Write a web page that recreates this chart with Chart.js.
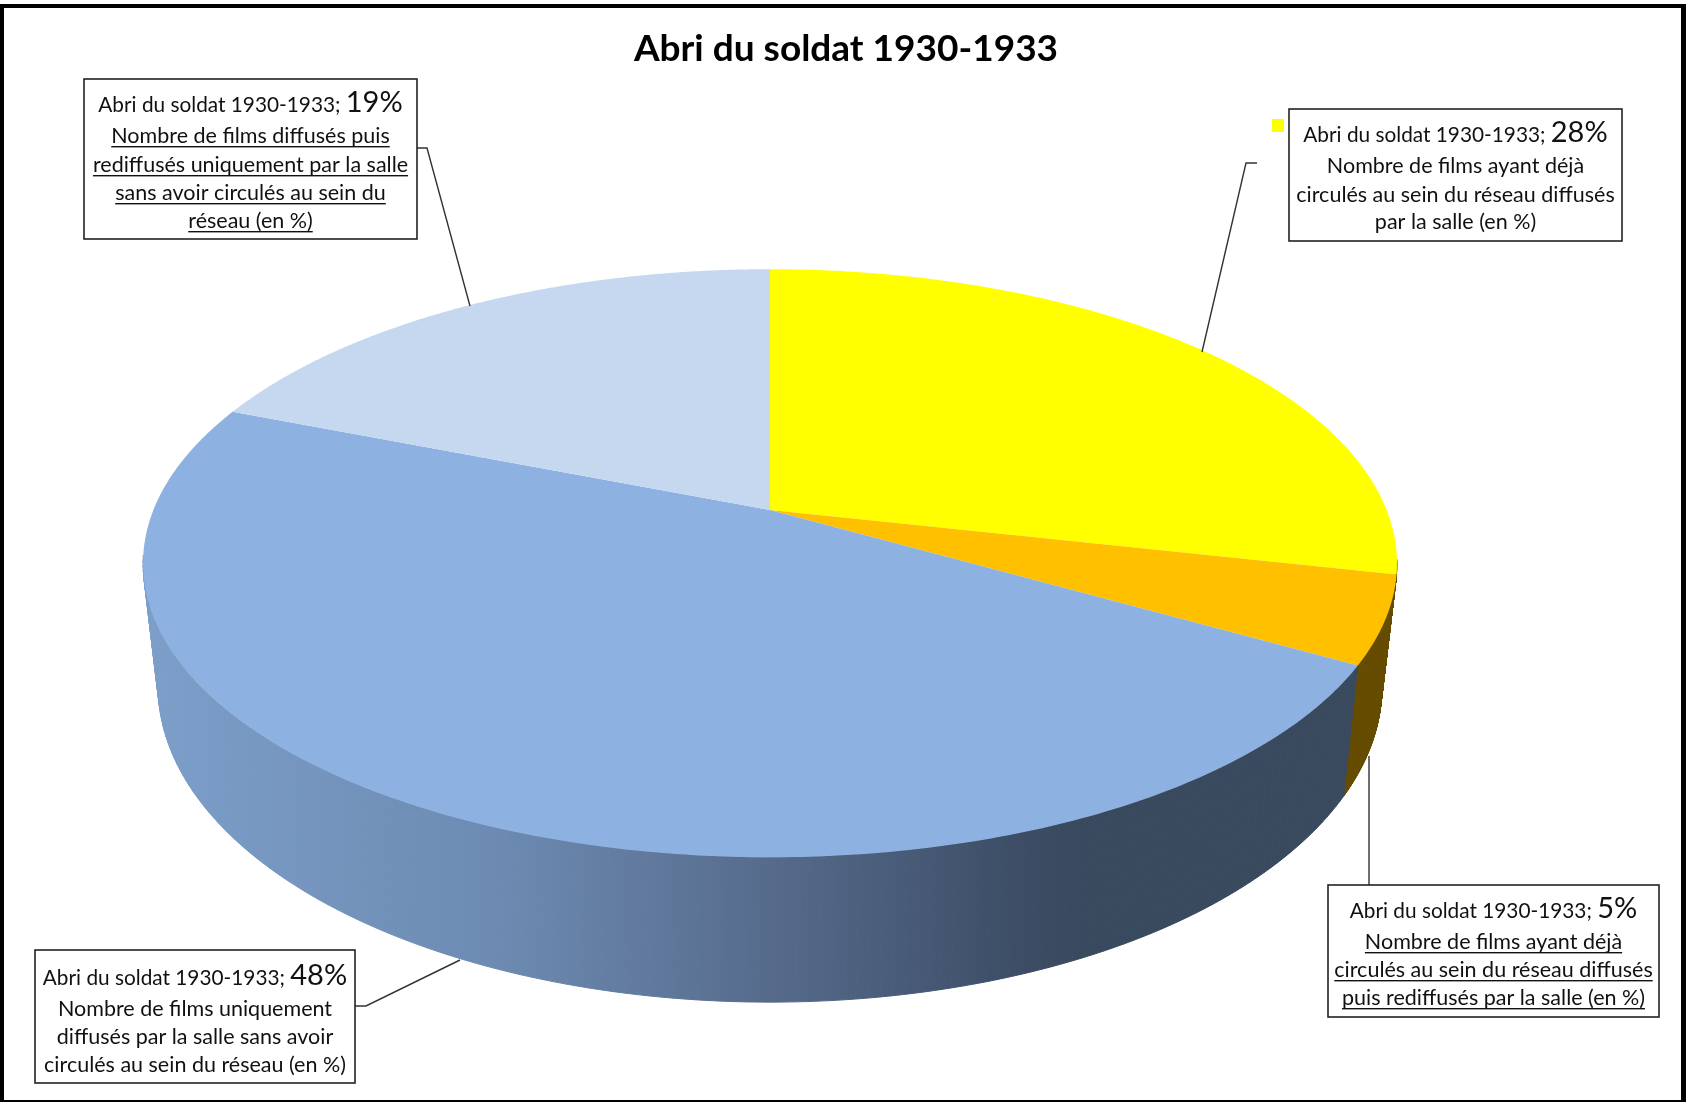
<!DOCTYPE html>
<html lang="fr">
<head>
<meta charset="utf-8">
<title>Abri du soldat 1930-1933</title>
<script src="https://cdn.jsdelivr.net/npm/chart.js@4"></script>
<style>
    html, body { margin: 0; padding: 0; background: #fff; }
    canvas { display: block; filter: blur(0.5px); }
</style>
</head>
<body>
<canvas id="pieChart" width="1686" height="1102"></canvas>
<script>
const chartTitle = 'Abri du soldat 1930-1933';
const sliceNames = [
    'Nombre de films ayant déjà circulés au sein du réseau diffusés par la salle (en %)',
    'Nombre de films ayant déjà circulés au sein du réseau diffusés puis rediffusés par la salle (en %)',
    'Nombre de films uniquement diffusés par la salle sans avoir circulés au sein du réseau (en %)',
    'Nombre de films diffusés puis rediffusés uniquement par la salle sans avoir circulés au sein du réseau (en %)'
];
// the labels show them rounded
const sliceValues = [28.49, 4.8, 47.71, 19.0];
const labelLines = [
    ['Nombre de films ayant déjà', 'circulés au sein du réseau diffusés', 'par la salle (en %)'],
    ['Nombre de films ayant déjà', 'circulés au sein du réseau diffusés', 'puis rediffusés par la salle (en %)'],
    ['Nombre de films uniquement', 'diffusés par la salle sans avoir', 'circulés au sein du réseau (en %)'],
    ['Nombre de films diffusés puis', 'rediffusés uniquement par la salle', 'sans avoir circulés au sein du', 'réseau (en %)']
];

const topColors = ['#ffff00', '#ffc000', '#8db1e1', '#c6d8f0'];
const sideColors = ['#808000', '#664d00', null, '#63788f'];

// perspective of the disc: top face and bottom face of the cylinder
const topFace = { cx: 770, cy: 510, rx: 616.6, ry: 284.4, p: -0.181 };
const bottomFace = { cx: 770, cy: 629, rx: 601.8, ry: 305.6, p: -0.181 };

// label boxes, with the baseline of each text line and the leader line points
const labelBoxes = [
    { x: 1289, y: 109, w: 333, h: 132, base: [142, 173, 202, 229], under: false, leader: [[1257, 163], [1246, 163], [1202, 352]] },
    { x: 1328, y: 885, w: 331, h: 132, base: [918, 949, 977, 1005], under: true, leader: [[1369, 885], [1369, 756]] },
    { x: 35, y: 950, w: 320, h: 133, base: [985, 1016, 1044, 1072], under: false, leader: [[355, 1006], [366, 1006], [460, 960]] },
    { x: 84, y: 79, w: 333, h: 160, base: [112, 143, 172, 200, 228], under: true, leader: [[417, 148], [427, 148], [470, 306]] }
];

const FONT = 'Lato, "Open Sans", sans-serif';
const HEAD_SIZE = 20.8;
const TEXT_SIZE = 21.5;
const PCT_SIZE = 29;

function project(face, angle) {
    const w = 1 + face.p * Math.sin(angle);
    return {
        x: face.cx + face.rx * Math.cos(angle) / w,
        y: face.cy + face.ry * Math.sin(angle) / w
    };
}

function sideGradient(ctx) {
    const g = ctx.createLinearGradient(143, 0, 1397, 0);
    g.addColorStop(0, '#7c9ec9');
    g.addColorStop(0.28, '#6d8bb2');
    g.addColorStop(0.5, '#566b8c');
    g.addColorStop(0.7, '#3c4d65');
    g.addColorStop(0.75, '#39495e');
    g.addColorStop(1, '#39495e');
    return g;
}

function drawSide(ctx, arc, style) {
    const steps = 180;
    ctx.fillStyle = style;
    ctx.strokeStyle = style;
    ctx.lineWidth = 1;
    for (let i = 0; i < steps; i++) {
        const a0 = arc.startAngle + (arc.endAngle - arc.startAngle) * i / steps;
        const a1 = arc.startAngle + (arc.endAngle - arc.startAngle) * (i + 1) / steps;
        // above the widest point of the disc the side is hidden by the top face
        if (Math.sin(a0) < 0.17 && Math.sin(a1) < 0.17) continue;
        const p0 = project(topFace, a0);
        const p1 = project(topFace, a1);
        const p2 = project(bottomFace, a1);
        const p3 = project(bottomFace, a0);
        ctx.beginPath();
        ctx.moveTo(p0.x, p0.y);
        ctx.lineTo(p1.x, p1.y);
        ctx.lineTo(p2.x, p2.y);
        ctx.lineTo(p3.x, p3.y);
        ctx.closePath();
        ctx.fill();
        ctx.stroke();
    }
}

function drawTop(ctx, arc, color) {
    const steps = 240;
    ctx.fillStyle = color;
    ctx.beginPath();
    ctx.moveTo(topFace.cx, topFace.cy);
    for (let i = 0; i <= steps; i++) {
        const a = arc.startAngle + (arc.endAngle - arc.startAngle) * i / steps;
        const pt = project(topFace, a);
        ctx.lineTo(pt.x, pt.y);
    }
    ctx.closePath();
    ctx.fill();
}

function drawLabel(ctx, index) {
    const box = labelBoxes[index];
    const cx = box.x + box.w / 2;

    // leader line
    ctx.strokeStyle = '#333';
    ctx.lineWidth = 1.4;
    ctx.beginPath();
    box.leader.forEach((pt, i) => {
        if (i === 0) ctx.moveTo(pt[0], pt[1]);
        else ctx.lineTo(pt[0], pt[1]);
    });
    ctx.stroke();

    // box
    ctx.fillStyle = '#fff';
    ctx.fillRect(box.x, box.y, box.w, box.h);
    ctx.strokeStyle = '#222';
    ctx.lineWidth = 1.6;
    ctx.strokeRect(box.x, box.y, box.w, box.h);

    // first line has the percentage in a bigger size
    ctx.fillStyle = '#111';
    ctx.textBaseline = 'alphabetic';
    ctx.textAlign = 'left';
    const head = chartTitle + '; ';
    const pct = Math.round(sliceValues[index]) + '%';
    ctx.font = HEAD_SIZE + 'px ' + FONT;
    const headW = ctx.measureText(head).width;
    ctx.font = PCT_SIZE + 'px ' + FONT;
    const pctW = ctx.measureText(pct).width;
    const startX = cx - (headW + pctW) / 2;
    ctx.font = HEAD_SIZE + 'px ' + FONT;
    ctx.fillText(head, startX, box.base[0]);
    ctx.font = PCT_SIZE + 'px ' + FONT;
    ctx.fillText(pct, startX + headW, box.base[0]);

    ctx.font = TEXT_SIZE + 'px ' + FONT;
    labelLines[index].forEach((line, i) => {
        const y = box.base[i + 1];
        const w = ctx.measureText(line).width;
        ctx.fillText(line, cx - w / 2, y);
        if (box.under) {
            ctx.fillRect(cx - w / 2, y + 3, w, 1.4);
        }
    });
}

const disc3d = {
    id: 'disc3d',
    beforeDraw(chart) {
        const ctx = chart.ctx;
        // frame of the picture
        ctx.fillStyle = '#000';
        ctx.fillRect(0, 4, 1686, 1098);
        ctx.fillStyle = '#fff';
        ctx.fillRect(4, 8, 1677, 1092);
    },
    // the library gives the angles of each slice, they are drawn here in perspective
    beforeDatasetDraw(chart, args) {
        const ctx = chart.ctx;
        const arcs = args.meta.data;
        ctx.save();
        arcs.forEach((arc, i) => {
            drawSide(ctx, arc, sideColors[i] || sideGradient(ctx));
        });
        arcs.forEach((arc, i) => drawTop(ctx, arc, topColors[i]));
        ctx.restore();
        return false;
    },
    afterDatasetsDraw(chart) {
        const ctx = chart.ctx;
        ctx.save();
        sliceValues.forEach((v, i) => drawLabel(ctx, i));
        // legend key left of the first label
        ctx.fillStyle = topColors[0];
        ctx.fillRect(1272, 119, 12, 13);
        ctx.restore();
    }
};

new Chart(document.getElementById('pieChart').getContext('2d'), {
    type: 'pie',
    data: {
        labels: sliceNames,
        datasets: [{
            data: sliceValues,
            backgroundColor: topColors,
            borderWidth: 0
        }]
    },
    options: {
        responsive: false,
        animation: false,
        layout: { padding: { left: 6 } },
        plugins: {
            legend: { display: false },
            tooltip: { enabled: false },
            title: {
                display: true,
                text: chartTitle,
                color: '#000',
                font: { family: FONT, size: 37, weight: 'bold' },
                padding: { top: 27, bottom: 0 }
            }
        }
    },
    plugins: [disc3d]
});
</script>
</body>
</html>
